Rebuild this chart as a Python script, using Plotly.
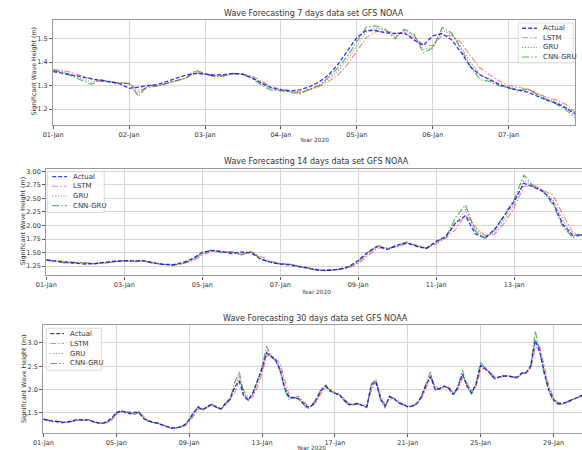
import pandas as pd
import plotly.graph_objects as go

# ---------------- data ----------------
# 7-day experiment, 3-hourly from 2020-01-01 00:00
ACTUAL_7 = [
    1.360, 1.352, 1.343, 1.335, 1.327, 1.322, 1.315, 1.308,
    1.288, 1.293, 1.298, 1.305, 1.318, 1.330, 1.345, 1.352,
    1.347, 1.345, 1.347, 1.352, 1.348, 1.332, 1.310, 1.290,
    1.282, 1.277, 1.282, 1.295, 1.315, 1.345, 1.390, 1.445,
    1.505, 1.535, 1.535, 1.525, 1.522, 1.525, 1.495, 1.472,
    1.512, 1.522, 1.495, 1.440, 1.378, 1.345, 1.325, 1.305,
    1.290, 1.282, 1.272, 1.255, 1.238, 1.225, 1.205, 1.180,
]
LSTM_7 = [
    1.368, 1.365, 1.355, 1.340, 1.328, 1.318, 1.315, 1.312,
    1.310, 1.280, 1.290, 1.298, 1.310, 1.322, 1.332, 1.355,
    1.350, 1.343, 1.342, 1.350, 1.350, 1.340, 1.318, 1.295,
    1.285, 1.278, 1.272, 1.282, 1.295, 1.318, 1.345, 1.390,
    1.450, 1.505, 1.530, 1.532, 1.525, 1.520, 1.505, 1.475,
    1.470, 1.515, 1.512, 1.482, 1.425, 1.375, 1.345, 1.320,
    1.300, 1.292, 1.285, 1.268, 1.250, 1.238, 1.220, 1.186,
]
GRU_7 = [
    1.366, 1.360, 1.345, 1.330, 1.315, 1.322, 1.316, 1.311,
    1.309, 1.268, 1.297, 1.297, 1.310, 1.321, 1.332, 1.360,
    1.350, 1.340, 1.341, 1.351, 1.349, 1.334, 1.308, 1.287,
    1.281, 1.273, 1.268, 1.283, 1.298, 1.328, 1.362, 1.410,
    1.472, 1.530, 1.545, 1.537, 1.510, 1.532, 1.515, 1.455,
    1.463, 1.535, 1.520, 1.463, 1.398, 1.345, 1.328, 1.305,
    1.294, 1.282, 1.285, 1.265, 1.245, 1.230, 1.208, 1.172,
]
CNNGRU_7 = [
    1.365, 1.355, 1.340, 1.322, 1.305, 1.325, 1.318, 1.310,
    1.308, 1.255, 1.303, 1.298, 1.310, 1.320, 1.332, 1.365,
    1.350, 1.338, 1.340, 1.352, 1.348, 1.330, 1.300, 1.280,
    1.278, 1.270, 1.265, 1.285, 1.300, 1.335, 1.375, 1.425,
    1.490, 1.550, 1.555, 1.540, 1.500, 1.540, 1.520, 1.440,
    1.460, 1.548, 1.525, 1.450, 1.380, 1.325, 1.318, 1.298,
    1.290, 1.276, 1.285, 1.262, 1.240, 1.222, 1.198, 1.162,
]

# 14- and 30-day experiments, 6-hourly from 2020-01-01 00:00
ACTUAL_6H = [
    1.360, 1.343, 1.327, 1.315, 1.288, 1.298, 1.318, 1.345,
    1.347, 1.347, 1.348, 1.310, 1.282, 1.280, 1.315, 1.390,
    1.505, 1.535, 1.522, 1.480, 1.512, 1.495, 1.378, 1.325,
    1.290, 1.272, 1.238, 1.205, 1.172, 1.175, 1.195, 1.240,
    1.355, 1.510, 1.615, 1.560, 1.640, 1.680, 1.615, 1.580,
    1.710, 1.800, 2.050, 2.180, 1.850, 1.770, 1.930, 2.180,
    2.450, 2.780, 2.700, 2.630, 2.420, 2.020, 1.820, 1.830,
    1.80, 1.72, 1.62, 1.66, 1.80, 1.98, 2.07, 1.97,
    1.92, 1.88, 1.78, 1.68, 1.68, 1.70, 1.66, 1.63,
    2.10, 2.17, 1.80, 1.64, 1.85, 1.80, 1.72, 1.67,
    1.63, 1.65, 1.70, 1.85, 2.10, 2.28, 2.00, 2.02,
    2.07, 2.03, 1.90, 2.05, 2.33, 2.08, 1.93, 2.12,
    2.52, 2.44, 2.36, 2.24, 2.27, 2.29, 2.29, 2.28,
    2.26, 2.35, 2.36, 2.50, 3.05, 2.80, 2.35, 1.98,
    1.78, 1.70, 1.70, 1.74, 1.78, 1.83, 1.87, 1.90,
]
LSTM_6H = [
    1.368, 1.355, 1.328, 1.315, 1.310, 1.290, 1.310, 1.332,
    1.350, 1.342, 1.350, 1.318, 1.285, 1.272, 1.295, 1.345,
    1.450, 1.530, 1.525, 1.505, 1.470, 1.512, 1.425, 1.345,
    1.300, 1.285, 1.250, 1.220, 1.190, 1.180, 1.185, 1.215,
    1.300, 1.440, 1.580, 1.590, 1.600, 1.670, 1.640, 1.590,
    1.660, 1.770, 1.930, 2.200, 1.980, 1.820, 1.840, 2.050,
    2.330, 2.720, 2.740, 2.650, 2.560, 2.200, 1.870, 1.820,
    1.86, 1.76, 1.66, 1.64, 1.74, 1.92, 2.04, 2.00,
    1.94, 1.90, 1.82, 1.71, 1.68, 1.69, 1.68, 1.64,
    1.98, 2.15, 1.88, 1.68, 1.78, 1.82, 1.75, 1.69,
    1.65, 1.64, 1.68, 1.80, 2.02, 2.25, 2.08, 2.00,
    2.05, 2.05, 1.94, 2.00, 2.25, 2.15, 1.97, 2.06,
    2.42, 2.47, 2.38, 2.28, 2.26, 2.28, 2.29, 2.28,
    2.27, 2.32, 2.36, 2.45, 2.90, 2.92, 2.48, 2.08,
    1.83, 1.72, 1.70, 1.72, 1.76, 1.81, 1.85, 1.89,
]
GRU_6H = [
    1.366, 1.345, 1.315, 1.316, 1.309, 1.297, 1.310, 1.332,
    1.350, 1.341, 1.349, 1.308, 1.281, 1.268, 1.298, 1.362,
    1.472, 1.545, 1.510, 1.515, 1.463, 1.520, 1.398, 1.328,
    1.294, 1.285, 1.245, 1.208, 1.178, 1.175, 1.188, 1.225,
    1.320, 1.470, 1.615, 1.575, 1.615, 1.685, 1.630, 1.580,
    1.680, 1.780, 2.040, 2.290, 1.940, 1.790, 1.880, 2.120,
    2.400, 2.830, 2.730, 2.635, 2.470, 2.090, 1.820, 1.825,
    1.82, 1.73, 1.62, 1.65, 1.78, 1.97, 2.07, 1.97,
    1.93, 1.88, 1.79, 1.68, 1.67, 1.70, 1.66, 1.62,
    2.05, 2.19, 1.83, 1.64, 1.82, 1.81, 1.73, 1.67,
    1.63, 1.64, 1.69, 1.83, 2.07, 2.32, 2.03, 2.01,
    2.07, 2.03, 1.90, 2.03, 2.34, 2.10, 1.93, 2.10,
    2.51, 2.46, 2.36, 2.25, 2.26, 2.29, 2.29, 2.27,
    2.25, 2.34, 2.36, 2.49, 3.08, 2.86, 2.39, 2.01,
    1.79, 1.70, 1.69, 1.73, 1.77, 1.82, 1.86, 1.90,
]
CNNGRU_6H = [
    1.365, 1.340, 1.305, 1.318, 1.308, 1.303, 1.310, 1.332,
    1.350, 1.340, 1.348, 1.300, 1.278, 1.265, 1.300, 1.375,
    1.490, 1.555, 1.500, 1.520, 1.460, 1.525, 1.380, 1.318,
    1.290, 1.285, 1.240, 1.198, 1.168, 1.170, 1.190, 1.235,
    1.340, 1.500, 1.640, 1.560, 1.630, 1.700, 1.620, 1.570,
    1.700, 1.790, 2.150, 2.380, 1.900, 1.760, 1.920, 2.200,
    2.480, 2.930, 2.720, 2.620, 2.380, 1.980, 1.780, 1.830,
    1.79, 1.70, 1.58, 1.66, 1.82, 2.02, 2.10, 1.95,
    1.92, 1.87, 1.76, 1.66, 1.67, 1.70, 1.65, 1.61,
    2.12, 2.22, 1.78, 1.60, 1.86, 1.80, 1.71, 1.66,
    1.62, 1.64, 1.70, 1.86, 2.12, 2.38, 1.98, 2.02,
    2.08, 2.02, 1.87, 2.06, 2.42, 2.06, 1.90, 2.14,
    2.60, 2.45, 2.35, 2.22, 2.27, 2.30, 2.29, 2.27,
    2.24, 2.36, 2.36, 2.52, 3.25, 2.80, 2.30, 1.95,
    1.75, 1.68, 1.69, 1.74, 1.78, 1.83, 1.87, 1.91,
]

SERIES_NAMES = ["Actual", "LSTM", "GRU", "CNN-GRU"]
PANEL_TITLES = [
    "Wave Forecasting 7 days data set GFS NOAA",
    "Wave Forecasting 14 days data set GFS NOAA",
    "Wave Forecasting 30 days data set GFS NOAA",
]
Y_TITLE = "Significant Wave Height (m)"
X_TITLE = "Year 2020"

t7 = pd.date_range("2020-01-01", periods=len(ACTUAL_7), freq="3h")
t6 = pd.date_range("2020-01-01", periods=len(ACTUAL_6H), freq="6h")
N14 = 56  # 14 days of 6-hourly samples

# ---------------- styles ----------------
W, H = 582, 450
FONT = "DejaVu Sans"
TXT = "#333333"
STYLE = {
    "Actual": dict(color="rgba(0,0,255,0.8)", dash="4px,2px", width=1.3),
    "LSTM": dict(color="rgba(255,0,0,0.5)", dash="6px,2px,1.5px,2px", width=1.1),
    "GRU": dict(color="rgba(110,110,110,0.75)", dash="1.2px,1.6px", width=1.1),
    "CNN-GRU": dict(color="rgba(0,128,0,0.6)", dash="7px,2px,1.5px,2px", width=1.2),
}
DRAW_ORDER = ["LSTM", "GRU", "CNN-GRU", "Actual"]


def px_x(p):
    return p / W


def px_y(p):
    return 1 - p / H


# plot-area boxes in pixels: left, right, top, bottom
BOXES = [(43, 575, 19, 124), (36, 582, 168, 275), (33, 582, 325, 433)]

panels = [
    (t7, {"Actual": ACTUAL_7, "LSTM": LSTM_7, "GRU": GRU_7, "CNN-GRU": CNNGRU_7}),
    (t6[:N14], {"Actual": ACTUAL_6H[:N14], "LSTM": LSTM_6H[:N14],
                "GRU": GRU_6H[:N14], "CNN-GRU": CNNGRU_6H[:N14]}),
    (t6, {"Actual": ACTUAL_6H, "LSTM": LSTM_6H, "GRU": GRU_6H, "CNN-GRU": CNNGRU_6H}),
]

fig = go.Figure()
for i, (t, data) in enumerate(panels):
    ax = "" if i == 0 else str(i + 1)
    for name in DRAW_ORDER:
        s = STYLE[name]
        fig.add_trace(go.Scatter(
            x=t, y=data[name], name=name, mode="lines",
            line=dict(color=s["color"], dash=s["dash"], width=s["width"]),
            xaxis="x" + ax, yaxis="y" + ax, showlegend=False,
            hoverinfo="skip",
        ))

DAY_MS = 86400000
x_ranges = [
    ("2020-01-01 00:00", "2020-01-07 21:00"),
    ("2020-01-01 00:00", "2020-01-14 17:45"),
    ("2020-01-01 00:00", "2020-01-30 13:30"),
]
x_dticks = [DAY_MS, 2 * DAY_MS, 4 * DAY_MS]
y_ranges = [(1.133, 1.58), (1.08, 3.05), (1.065, 3.38)]
y_ticks = [
    ([1.2, 1.3, 1.4, 1.5], ".1f"),
    ([1.25, 1.5, 1.75, 2.0, 2.25, 2.5, 2.75, 3.0], ".2f"),
    ([1.5, 2.0, 2.5, 3.0], ".1f"),
]

axis_common = dict(
    showgrid=True, gridcolor="#d6d6d6", gridwidth=1,
    showline=True, linecolor="#9a9a9a", linewidth=1.4,
    ticks="outside", ticklen=3, tickcolor="#555555", tickwidth=0.8,
    tickfont=dict(family=FONT, size=6.5, color=TXT),
    zeroline=False, fixedrange=True,
)

layout = dict(
    width=W, height=H, margin=dict(l=0, r=0, t=0, b=0),
    paper_bgcolor="white", plot_bgcolor="white",
    font=dict(family=FONT, color=TXT),
    showlegend=False,
)

for i, (l, r, tp, bt) in enumerate(BOXES):
    ax = "" if i == 0 else str(i + 1)
    layout["xaxis" + ax] = dict(
        axis_common, type="date", domain=[px_x(l), min(px_x(r), 1.0)],
        anchor="y" + ax, range=list(x_ranges[i]),
        tick0="2020-01-01", dtick=x_dticks[i], tickformat="%d-%b",
        mirror=True,
    )
    layout["yaxis" + ax] = dict(
        axis_common, domain=[px_y(bt), px_y(tp)], anchor="x" + ax,
        range=list(y_ranges[i]), tickvals=y_ticks[i][0],
        tickformat=y_ticks[i][1], mirror=(i == 0),
    )

annotations = []
shapes = []
title_pos = [(309, 13), (311, 161), (310, 318)]
xlab_pos = [(309, 139), (311, 292), (306, 448)]
ylab_pos = [(23, 71), (12, 221), (13, 379)]
for i in range(3):
    annotations.append(dict(
        text=PANEL_TITLES[i], x=px_x(title_pos[i][0]), y=px_y(title_pos[i][1]),
        xref="paper", yref="paper", showarrow=False, xanchor="center",
        yanchor="middle", font=dict(family=FONT, size=8, color=TXT),
    ))
    annotations.append(dict(
        text=X_TITLE, x=px_x(xlab_pos[i][0]), y=px_y(xlab_pos[i][1]),
        xref="paper", yref="paper", showarrow=False, xanchor="center",
        yanchor="middle", font=dict(family=FONT, size=5.8, color=TXT),
    ))
    annotations.append(dict(
        text=Y_TITLE, x=px_x(ylab_pos[i][0]), y=px_y(ylab_pos[i][1]),
        xref="paper", yref="paper", showarrow=False, textangle=-90,
        xanchor="center", yanchor="middle",
        font=dict(family=FONT, size=6.3, color=TXT),
    ))

# compact legend boxes: (box left, right, top, bottom, first row y, row step,
#                        sample x0, sample x1, text x)
LEGENDS = [
    (517, 573, 22, 62, 27.3, 9.6, 521, 536, 540),
    (37, 95, 171, 212, 176.0, 9.7, 42, 57, 61),
    (36, 92, 328, 370, 333.3, 10.0, 40, 54, 58),
]
for (bl, br, bt, bb, ry, rs, sx0, sx1, tx) in LEGENDS:
    shapes.append(dict(
        type="rect", xref="paper", yref="paper", layer="above",
        x0=px_x(bl), x1=px_x(br), y0=px_y(bb), y1=px_y(bt),
        fillcolor="rgba(255,255,255,0.85)",
        line=dict(color="#d0d0d0", width=0.8),
    ))
    for k, name in enumerate(SERIES_NAMES):
        s = STYLE[name]
        yy = px_y(ry + k * rs)
        shapes.append(dict(
            type="line", xref="paper", yref="paper", layer="above",
            x0=px_x(sx0), x1=px_x(sx1), y0=yy, y1=yy,
            line=dict(color=s["color"], dash=s["dash"], width=s["width"]),
        ))
        annotations.append(dict(
            text=name, x=px_x(tx), y=yy, xref="paper", yref="paper",
            showarrow=False, xanchor="left", yanchor="middle",
            font=dict(family=FONT, size=7, color=TXT),
        ))

layout["annotations"] = annotations
layout["shapes"] = shapes

fig.update_layout(**layout)
fig.write_html("out.html")
